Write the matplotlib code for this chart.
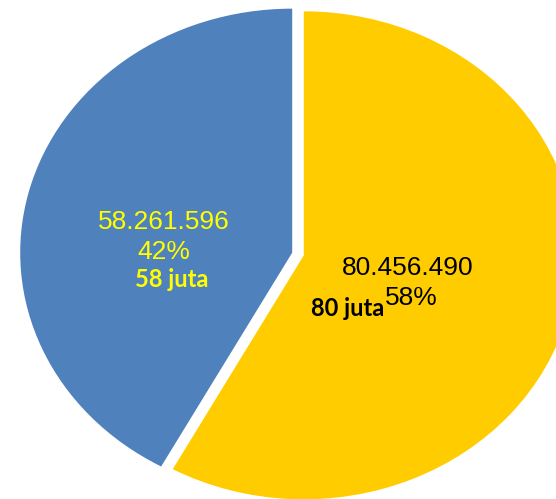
import matplotlib
matplotlib.use("Agg")
import matplotlib.pyplot as plt

# Data
values = [80456490, 58261596]
colors = ["#FFCC00", "#4F81BD"]
text_colors = ["black", "#FFFF00"]
short_labels = ["80 juta", "58 juta"]

W, H = 556, 499
fig = plt.figure(figsize=(W / 100, H / 100), dpi=100)
ax = fig.add_axes([0, 0, 1, 1])

ax.pie(values, colors=colors, startangle=90, counterclock=False,
       explode=[0.022, 0.022], wedgeprops=dict(linewidth=0))
ax.set_aspect("auto")

# pie centre in pixels; stretched horizontally like the original
cx, cy, rx, ry = 298, 254, 272, 244
ax.set_xlim(-cx / rx, (W - cx) / rx)
ax.set_ylim((cy - H) / ry, cy / ry)
ax.axis("off")

total = sum(values)
num = [f"{v:,}".replace(",", ".") for v in values]
pct = [f"{round(v / total * 100):.0f}%" for v in values]


def px(x, y):
    return x / W, 1 - y / H


# blue slice labels
fig.text(*px(164, 229), num[1], color=text_colors[1], fontsize=19,
         family="Liberation Sans", ha="center", va="baseline")
fig.text(*px(164, 259), pct[1], color=text_colors[1], fontsize=19,
         family="Liberation Sans", ha="center", va="baseline")
fig.text(*px(172, 287), short_labels[1], color=text_colors[1], fontsize=17,
         family="Lato", weight="bold", ha="center", va="baseline")

# yellow slice labels
fig.text(*px(408, 275), num[0], color=text_colors[0], fontsize=19,
         family="Liberation Sans", ha="center", va="baseline")
fig.text(*px(385, 305), pct[0], color=text_colors[0], fontsize=19,
         family="Liberation Sans", ha="left", va="baseline")
fig.text(*px(384, 316), short_labels[0], color=text_colors[0], fontsize=17,
         family="Lato", weight="bold", ha="right", va="baseline")

fig.savefig("out.png", dpi=100)
